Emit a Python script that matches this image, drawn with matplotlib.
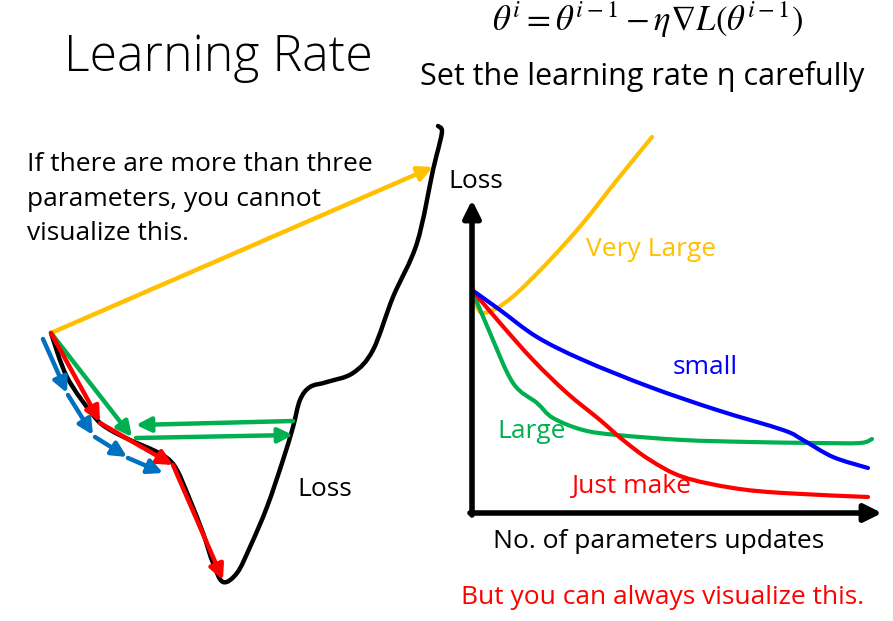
import matplotlib
matplotlib.use("Agg")
import matplotlib.pyplot as plt
from matplotlib.path import Path
from matplotlib.patches import PathPatch

plt.rcParams['font.family'] = ['Open Sans', 'DejaVu Sans']
plt.rcParams['mathtext.fontset'] = 'stix'

YELLOW = '#FFC000'
GREEN = '#00B050'
RED = '#FF0000'
BLUE_ARROW = '#0070C0'
BLUE = '#0000FF'

# left panel: loss surface (slide pixel coordinates)
surface_x = [51, 67, 93, 107, 130, 153, 167, 177, 190, 203, 213, 223, 237, 250, 267,
             283, 293, 300, 310, 327, 353, 373, 393, 417, 433, 438, 442, 438]
surface_y = [333, 377, 415, 428, 440, 450, 458, 470, 500, 533, 563, 582, 573, 547, 507,
             460, 427, 400, 387, 382, 373, 350, 297, 243, 170, 150, 131, 126]

# gradient descent steps (start -> end)
red_steps = [((51, 333), (100, 422)), ((100, 423), (173, 465)), ((173, 465), (223, 580))]
green_steps = [((51, 333), (132, 437)), ((293, 421), (136, 425)), ((136, 438), (293, 435))]
blue_steps = [((43, 339), (67, 393)), ((68, 395), (93, 435)), ((95, 437), (127, 457)), ((128, 458), (163, 473))]
yellow_steps = [((51, 333), (433, 167))]

# right panel: loss vs. updates
very_large_x = [472, 474, 477, 483, 497, 517, 550, 583, 617, 652]
very_large_y = [280, 295, 307, 313, 308, 293, 260, 223, 180, 137]
small_x = [472, 500, 537, 583, 650, 717, 783, 803, 833, 868]
small_y = [290, 310, 337, 360, 387, 410, 430, 440, 457, 468]
large_x = [472, 490, 513, 537, 553, 583, 617, 683, 750, 817, 860, 872]
large_y = [290, 333, 383, 403, 418, 430, 435, 440, 442, 443, 443, 439]
just_x = [472, 500, 533, 567, 600, 623, 650, 683, 733, 783, 868]
just_y = [290, 323, 360, 393, 420, 440, 460, 477, 488, 493, 497]

fig = plt.figure(figsize=(8.93, 6.21), dpi=100)
ax = fig.add_axes([0, 0, 1, 1])
ax.set_xlim(0, 893)
ax.set_ylim(621, 0)
ax.axis('off')


def smooth_curve(xs, ys, color, lw=3.2, z=2):
    # bezier path through the points (Catmull-Rom tangents)
    pts = list(zip(xs, ys))
    verts = [pts[0]]
    codes = [Path.MOVETO]
    n = len(pts)
    for i in range(n - 1):
        p0 = pts[max(i - 1, 0)]
        p1 = pts[i]
        p2 = pts[i + 1]
        p3 = pts[min(i + 2, n - 1)]
        c1 = (p1[0] + (p2[0] - p0[0]) / 6, p1[1] + (p2[1] - p0[1]) / 6)
        c2 = (p2[0] - (p3[0] - p1[0]) / 6, p2[1] - (p3[1] - p1[1]) / 6)
        verts += [c1, c2, p2]
        codes += [Path.CURVE4] * 3
    ax.add_patch(PathPatch(Path(verts, codes), facecolor='none', edgecolor=color,
                           lw=lw, capstyle='round', zorder=z))


def arrow(start, end, color, lw=3.2, ms=22):
    ax.annotate('', xy=end, xytext=start,
                arrowprops=dict(arrowstyle='-|>', color=color, lw=lw, mutation_scale=ms,
                                shrinkA=0, shrinkB=0))


# loss surface
smooth_curve(surface_x, surface_y, 'black')
for s, e in yellow_steps:
    arrow(s, e, YELLOW)
for s, e in green_steps:
    arrow(s, e, GREEN)
for s, e in blue_steps:
    arrow(s, e, BLUE_ARROW)
for s, e in red_steps:
    arrow(s, e, RED)

# right axes
arrow((472, 515), (472, 200), 'black', lw=4, ms=26)
arrow((470, 513), (882, 513), 'black', lw=4, ms=26)
smooth_curve(very_large_x, very_large_y, YELLOW, lw=3)
smooth_curve(large_x, large_y, GREEN, lw=3)
smooth_curve(just_x, just_y, RED, lw=3)
smooth_curve(small_x, small_y, BLUE, lw=3)

# text
ax.text(218, 58, 'Learning Rate', fontsize=36, fontweight='light', ha='center', va='center')
ax.text(648, 20, r'$\theta^{i} = \theta^{i-1} - \eta\nabla L\left(\theta^{i-1}\right)$',
        fontsize=25, ha='center', va='center')
ax.text(642, 77, 'Set the learning rate η carefully', fontsize=22, ha='center', va='center')
ax.text(27, 199, 'If there are more than three\nparameters, you cannot\nvisualize this.',
        fontsize=19, ha='left', va='center', linespacing=1.5)
ax.text(325, 489, 'Loss', fontsize=19, ha='center', va='center')
ax.text(476, 181, 'Loss', fontsize=19, ha='center', va='center')
ax.text(651, 250, 'Very Large', fontsize=19, color=YELLOW, ha='center', va='center')
ax.text(705, 368, 'small', fontsize=19, color=BLUE, ha='center', va='center')
ax.text(532, 432, 'Large', fontsize=19, color=GREEN, ha='center', va='center')
ax.text(631, 486, 'Just make', fontsize=19, color=RED, ha='center', va='center')
ax.text(659, 542, 'No. of parameters updates', fontsize=19, ha='center', va='center')
ax.text(663, 597, 'But you can always visualize this.', fontsize=19, color=RED,
        ha='center', va='center')

fig.savefig('out.png', dpi=100)
